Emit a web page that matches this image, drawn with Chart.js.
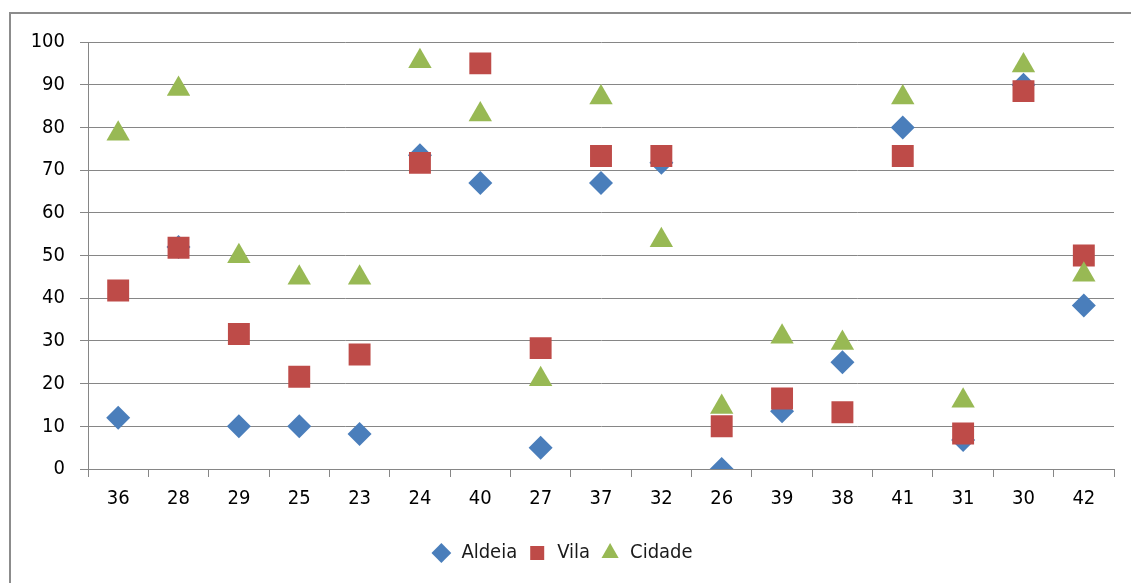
<!DOCTYPE html>
<html>
<head>
<meta charset="utf-8">
<script src="https://cdn.jsdelivr.net/npm/chart.js@4"></script>
<style>
  body { margin: 0; background: #fff; }
  #frame { position: absolute; left: 9px; top: 12px; width: 1140px; height: 600px; border: 2px solid #8c8c8c; box-sizing: border-box; }
  #wrap { position: absolute; left: 0; top: 0; width: 1131px; height: 583px; }
</style>
</head>
<body>
<div id="frame"></div>
<div id="wrap"><canvas id="chart"></canvas></div>
<script>
// categorias (eixo x)
const categorias = ['36', '28', '29', '25', '23', '24', '40', '27', '37', '32', '26', '39', '38', '41', '31', '30', '42'];

// valores por série
const aldeia = [12, 52, 10, 10, 8.2, 73.5, 67, 5, 67, 71.7, 0, 13.5, 25, 80, 6.8, 90, 38.3];
const vila = [41.8, 51.8, 31.6, 21.6, 26.8, 71.7, 95, 28.3, 73.3, 73.3, 10, 16.5, 13.3, 73.3, 8.3, 88.5, 50];
const cidade = [78.5, 89, 49.8, 44.8, 44.8, 95.5, 83, 21, 87, 53.6, 14.5, 31, 29.5, 87, 16, 94.5, 45.5];

const fonte = "'DejaVu Sans Condensed', 'Liberation Sans', sans-serif";

new Chart(document.getElementById('chart'), {
  type: 'line',
  data: {
    labels: categorias,
    datasets: [
      // order: Cidade desenhada por cima, Aldeia por baixo
      { label: 'Aldeia', data: aldeia, order: 3, showLine: false, pointStyle: 'rectRot', pointRadius: 12, pointHoverRadius: 12,
        backgroundColor: '#4a7ebb', borderColor: '#4a7ebb', pointBorderWidth: 0 },
      { label: 'Vila', data: vila, order: 2, showLine: false, pointStyle: 'rect', pointRadius: 15.5, pointHoverRadius: 15.5,
        backgroundColor: '#be4b48', borderColor: '#be4b48', pointBorderWidth: 0 },
      { label: 'Cidade', data: cidade, order: 1, showLine: false, pointStyle: 'triangle', pointRadius: 13.5, pointHoverRadius: 13.5,
        backgroundColor: '#98b954', borderColor: '#98b954', pointBorderWidth: 0 }
    ]
  },
  options: {
    responsive: true,
    maintainAspectRatio: false,
    animation: false,
    layout: { padding: { left: 10, right: 17, top: 42, bottom: 10 } },
    plugins: {
      tooltip: { enabled: false },
      legend: {
        position: 'bottom',
        labels: {
          usePointStyle: true,
          boxHeight: 14,
          padding: 10,
          color: '#1a1a1a',
          font: { family: fonte, size: 20 },
          sort: (a, b) => a.datasetIndex - b.datasetIndex
        }
      }
    },
    scales: {
      x: {
        offset: true,
        grid: { offset: true, drawOnChartArea: false, drawTicks: true, tickLength: 8, color: '#868686' },
        border: { color: '#868686', width: 1 },
        ticks: { color: '#000', padding: 10, font: { family: fonte, size: 20 } },
        afterFit: (scale) => { scale.height += 12; }
      },
      y: {
        min: 0,
        max: 100,
        ticks: { stepSize: 10, color: '#000', padding: 15, font: { family: fonte, size: 20 } },
        grid: { color: '#868686', tickLength: 8 },
        border: { color: '#868686', width: 1 },
        afterFit: (scale) => { scale.width = 78; }
      }
    }
  }
});
</script>
</body>
</html>
